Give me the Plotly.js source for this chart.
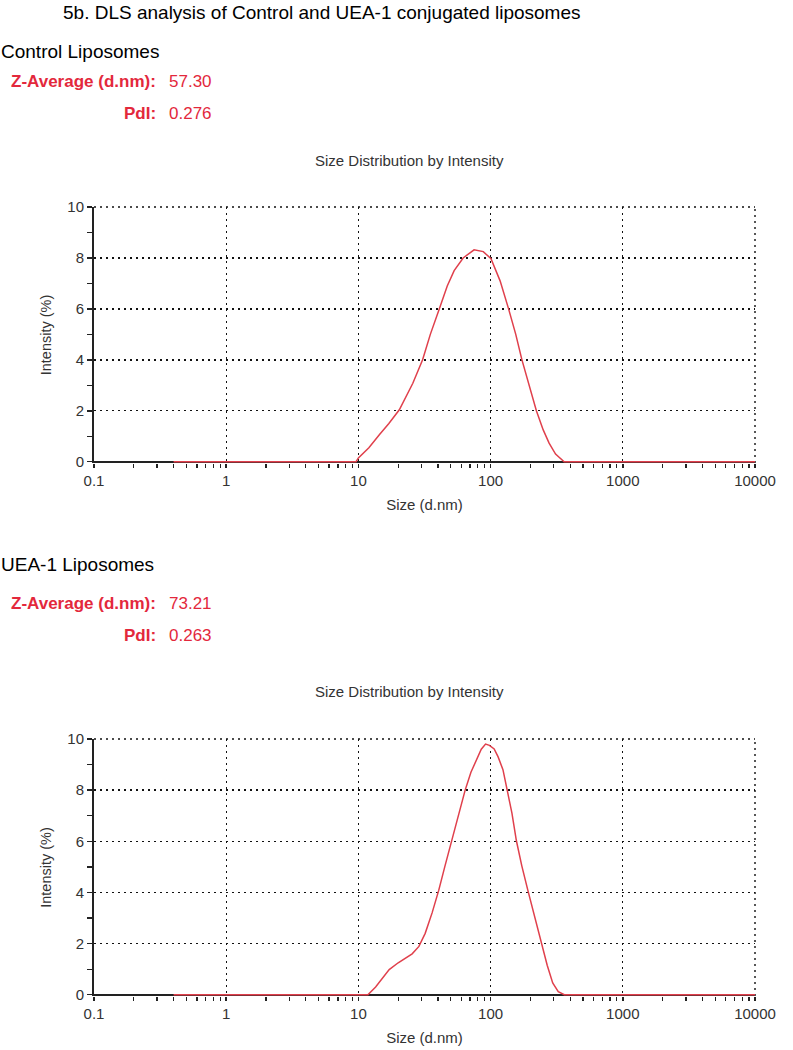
<!DOCTYPE html>
<html>
<head>
<meta charset="utf-8">
<script src="https://cdn.plot.ly/plotly-3.0.1.min.js"></script>
<style>
html,body{margin:0;padding:0;background:#fff;}
#chart{width:793px;height:1050px;}
</style>
</head>
<body>
<div id="chart"></div>
<script>
// ---- Data ----
const pageTitle = "5b. DLS analysis of Control and UEA-1 conjugated liposomes";
const panelNames = ["Control Liposomes", "UEA-1 Liposomes"];
const zAverage = ["57.30", "73.21"];
const pdi = ["0.276", "0.263"];
const chartTitle = "Size Distribution by Intensity";
const xTitle = "Size (d.nm)";
const yTitle = "Intensity (%)";

const controlSize = [0.4, 1, 5, 9.6, 10, 12, 14.4, 17, 20.4, 25.8, 30.6, 35, 40.9, 47, 53, 62, 75, 88, 100.7, 118, 136.8, 155, 172.6, 196, 222, 250, 277, 310, 360, 500, 1000, 5000, 10000];
const controlIntensity = [0, 0, 0, 0, 0.15, 0.55, 1.06, 1.5, 2.04, 3.08, 4, 5, 6, 6.9, 7.5, 8.0, 8.32, 8.25, 7.97, 7.1, 6, 5, 4, 3, 2, 1.25, 0.73, 0.3, 0, 0, 0, 0, 0];

const ueaSize = [0.4, 1, 5, 10, 11.8, 13.5, 15, 17.1, 20, 22.8, 25.5, 28.7, 32, 36.1, 40.5, 45, 51, 57, 64.2, 71, 78.5, 85, 91.6, 98, 106.4, 114, 124, 134, 145, 156.6, 172, 191.4, 215, 241.5, 268, 295, 325, 361, 500, 1000, 10000];
const ueaIntensity = [0, 0, 0, 0, 0, 0.3, 0.6, 0.98, 1.25, 1.43, 1.6, 1.89, 2.4, 3.2, 4.08, 5, 6.03, 7.05, 8, 8.7, 9.19, 9.6, 9.8, 9.75, 9.61, 9.3, 8.8, 8, 7.1, 6.03, 5.05, 4.08, 3.05, 2.05, 1.15, 0.46, 0.12, 0, 0, 0, 0];

const xTickVals = [0.1, 1, 10, 100, 1000, 10000];
const xTickText = ["0.1", "1", "10", "100", "1000", "10000"];
const xMinorVals = [0.2,0.3,0.4,0.5,0.6,0.7,0.8,0.9,2,3,4,5,6,7,8,9,20,30,40,50,60,70,80,90,200,300,400,500,600,700,800,900,2000,3000,4000,5000,6000,7000,8000,9000];
const yTickVals = [0, 2, 4, 6, 8, 10];
const yMinorVals = [1, 3, 5, 7, 9];

// ---- Layout helpers ----
const W = 793, H = 1050;
const py = v => 1 - v / H;
const px = v => v / W;
const red = "#e3283c";
const curveColor = "#e0404c";
const font = "Liberation Sans, Arial, sans-serif";
const gridDash = "2px,4px";

function xaxisDef(anchor) {
  return {
    type: "log",
    range: [-1, 4],
    domain: [px(94), px(755)],
    anchor: anchor,
    tickvals: xTickVals,
    ticktext: xTickText,
    showgrid: true,
    gridcolor: "#111",
    gridwidth: 1.4,
    griddash: gridDash,
    showline: false,
    layer: "below traces",
    ticks: "outside",
    ticklen: 4,
    tickcolor: "#222",
    tickwidth: 1.5,
    minor: {tickvals: xMinorVals, ticks: "outside", ticklen: 4, tickcolor: "#222", tickwidth: 1.3, showgrid: false},
    tickfont: {family: font, size: 15, color: "#333"},
    title: {text: xTitle, font: {family: font, size: 15, color: "#333"}, standoff: 11},
    zeroline: false,
    fixedrange: true
  };
}
function yaxisDef(domain, anchor) {
  return {
    range: [-0.05, 10],
    domain: domain,
    anchor: anchor,
    tickvals: yTickVals,
    showgrid: true,
    gridcolor: "#111",
    gridwidth: 1.4,
    griddash: gridDash,
    showline: true,
    linecolor: "#222",
    linewidth: 2,
    layer: "below traces",
    ticks: "outside",
    ticklen: 5,
    tickcolor: "#222",
    tickwidth: 1.5,
    minor: {tickvals: yMinorVals, ticks: "outside", ticklen: 5, tickcolor: "#222", tickwidth: 1.3, showgrid: false},
    tickfont: {family: font, size: 15, color: "#333"},
    title: {text: yTitle, font: {family: font, size: 14.5, color: "#333"}, standoff: 12},
    zeroline: true,
    zerolinecolor: "#222",
    zerolinewidth: 2,
    fixedrange: true
  };
}

const traces = [
  {x: controlSize, y: controlIntensity, type: "scatter", mode: "lines", xaxis: "x", yaxis: "y",
   line: {color: curveColor, width: 1.5}, hoverinfo: "skip", cliponaxis: false},
  {x: ueaSize, y: ueaIntensity, type: "scatter", mode: "lines", xaxis: "x2", yaxis: "y2",
   line: {color: curveColor, width: 1.5}, hoverinfo: "skip", cliponaxis: false}
];

function ann(text, xPix, yPix, opts) {
  return Object.assign({
    text: text, xref: "paper", yref: "paper", x: px(xPix), y: py(yPix),
    xanchor: "left", yanchor: "middle", showarrow: false,
    font: {family: font, size: 19, color: "#000"}
  }, opts || {});
}

const redFont = {family: font, size: 17, color: red};
const annotations = [
  ann(pageTitle, 61, 12, {font: {family: font, size: 19, color: "#000"}}),
  ann(panelNames[0], -1, 51),
  ann("<b>Z-Average (d.nm):</b>", 158, 81, {xanchor: "right", font: redFont}),
  ann(zAverage[0], 167, 81, {font: redFont}),
  ann("<b>PdI:</b>", 158, 113, {xanchor: "right", font: redFont}),
  ann(pdi[0], 167, 113, {font: redFont}),
  ann(chartTitle, 409, 160, {xanchor: "center", font: {family: font, size: 15, color: "#333"}}),
  ann(panelNames[1], -1, 564),
  ann("<b>Z-Average (d.nm):</b>", 158, 603, {xanchor: "right", font: redFont}),
  ann(zAverage[1], 167, 603, {font: redFont}),
  ann("<b>PdI:</b>", 158, 635, {xanchor: "right", font: redFont}),
  ann(pdi[1], 167, 635, {font: redFont}),
  ann(chartTitle, 409, 692, {xanchor: "center", font: {family: font, size: 15, color: "#333"}})
];

// dotted frame lines at the top and right edge of each plot (edge gridlines)
function frame(xr, yr) {
  const ln = {color: "#111", width: 1.4, dash: gridDash};
  return [
    {type: "line", xref: xr + " domain", yref: yr + " domain", x0: 0, x1: 1, y0: 1, y1: 1, line: ln, layer: "below"},
    {type: "line", xref: xr + " domain", yref: yr + " domain", x0: 1, x1: 1, y0: 0, y1: 1, line: ln, layer: "below"}
  ];
}

const layout = {
  width: W, height: H,
  margin: {l: 0, r: 0, t: 0, b: 0},
  paper_bgcolor: "#fff",
  plot_bgcolor: "#fff",
  showlegend: false,
  xaxis: xaxisDef("y"),
  yaxis: yaxisDef([py(463), py(207)], "x"),
  xaxis2: xaxisDef("y2"),
  yaxis2: yaxisDef([py(996), py(739)], "x2"),
  annotations: annotations,
  shapes: frame("x", "y").concat(frame("x2", "y2"))
};

Plotly.newPlot("chart", traces, layout, {staticPlot: true, displayModeBar: false});
</script>
</body>
</html>
